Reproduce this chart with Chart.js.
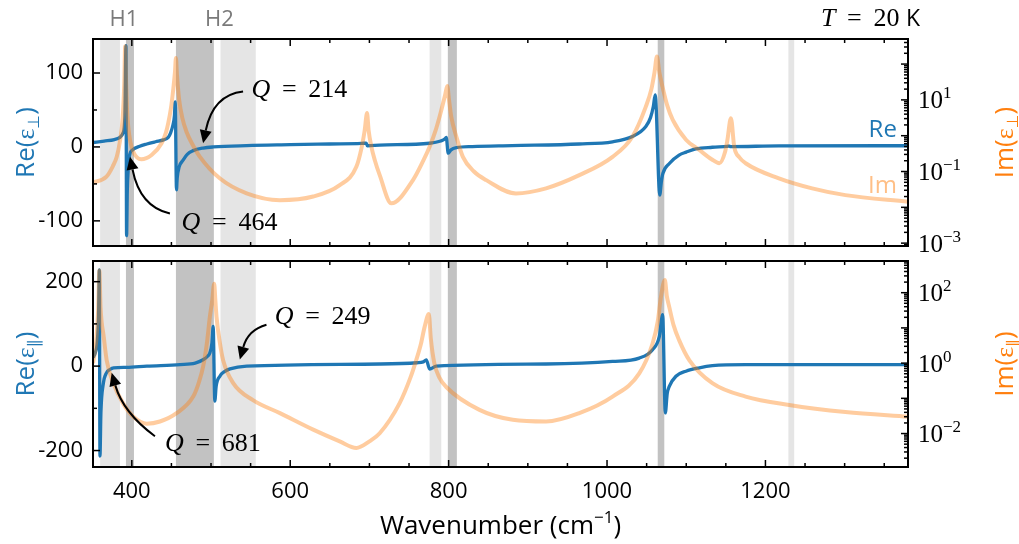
<!DOCTYPE html>
<html>
<head>
<meta charset="utf-8">
<script src="https://cdn.jsdelivr.net/npm/chart.js@4.4.1/dist/chart.umd.min.js"></script>
<style>
  html, body { margin: 0; padding: 0; background: #fff; }
  #wrap { position: relative; width: 1019px; height: 544px; }
  canvas { position: absolute; left: 0; top: 0; }
</style>
</head>
<body>
<div id="wrap">
  <canvas id="perp" width="1019" height="544"></canvas>
  <canvas id="par" width="1019" height="544"></canvas>
</div>
<script>
'use strict';

// wavenumber axis (cm-1), shared by both panels
const X_MIN = 351;
const X_MAX = 1380;
const X_TICKS = [400, 600, 800, 1000, 1200];

// shaded regions
const BAND_START = [360, 392.6, 455.7, 512, 776, 799, 1064, 1229];
const BAND_END = [385, 402.7, 503.6, 556.5, 790.7, 810.4, 1072.3, 1236.3];
const BAND_DARK = [false, true, true, false, false, true, true, false];

// perpendicular component
const RE_PERP_X = [351, 365, 378, 385, 389, 391.2, 392.6, 393.4, 394.3, 395.5, 397, 401, 410, 419, 430, 440, 446, 449, 452, 453.8, 454.8,
  456.4, 457.3, 459.8, 465, 470, 477.5, 490, 503, 545, 600, 650, 690, 696, 697.5, 713, 776, 790, 795.5, 797, 799.5, 803, 810, 830,
  880, 965, 1007, 1032, 1049, 1055, 1058.5, 1060.8, 1066.6, 1068.5, 1070.5, 1079, 1091, 1100, 1112, 1133, 1152, 1154.5, 1156, 1217, 1380];
const RE_PERP = [6, 8, 10, 13, 19, 40, 137, -120, -60, -30, -12, -4, 1, 4, 7, 9.5, 13, 19, 30, 42, 61,
  -58, -42, -27, -17.6, -10, -5, -1.5, 0, 1.8, 3, 4, 4.8, 5.2, 1.6, 2.5, 5, 8, 11, 13, -8.5, -4, -1, 0.5,
  1.8, 4, 7, 14, 27.5, 40, 55, 70.5, -65, -48, -36, -22, -11, -7, -2.7, -0.4, 0.8, 1.2, 0.4, 1.4, 1.6];

const IM_PERP_X = [351, 368, 376, 381, 385, 388.5, 390.5, 391.6, 392.8, 394, 395.5, 398, 401.8, 412, 425, 437.6, 443, 446, 449.5, 452,
  454.5, 455.7, 457, 459.8, 464, 469, 477, 486, 511, 545, 587, 629, 662.5, 683.5, 690, 694, 697, 699, 702.5, 707, 713, 727.7,
  755, 768, 776, 784, 788.6, 793, 796, 798.3, 800.5, 803.3, 810, 818, 832, 847.5, 885, 923, 965, 1007, 1032, 1049, 1056,
  1060, 1063, 1066, 1070, 1076, 1083, 1100, 1116.5, 1132, 1141.7, 1149, 1152, 1156.4, 1160.6, 1167, 1175, 1217, 1259, 1301, 1380];
const IM_PERP = [0.049, 0.072, 0.14, 0.257, 0.7, 3.2, 30, 316, 30, 5, 1.78, 0.7, 0.355, 0.219, 0.288, 0.617, 1.2, 2.24, 6, 17,
  60, 148, 50, 10, 3, 1.29, 0.55, 0.257, 0.0646, 0.0245, 0.0158, 0.02, 0.0417, 0.135, 0.45, 1.4, 4.27, 1.4, 0.49, 0.2, 0.079, 0.0129,
  0.0575, 0.2, 0.49, 1.5, 3.39, 8, 15, 24.5, 10, 3.39, 0.9, 0.257, 0.1, 0.0575, 0.0245, 0.0339, 0.079, 0.257, 0.93, 6.46, 20,
  60, 162, 60, 23.4, 7, 2.75, 0.76, 0.4, 0.22, 0.17, 0.35, 0.76, 3.09, 0.49, 0.25, 0.17, 0.0646, 0.0339, 0.0219, 0.0143];

// parallel component
const RE_PAR_X = [351, 354, 356.5, 358, 359, 359.8, 361, 364, 368, 372.4, 377, 393.5, 419, 461, 480, 490, 496, 498.5, 501.2, 502.7,
  504.8, 506.5, 511.2, 517, 524, 545, 713, 760, 768, 771.8, 776, 784.4, 923, 1007, 1040.7, 1057.5, 1066, 1070.2, 1073.6, 1076,
  1078.6, 1087, 1099.7, 1116.5, 1133, 1175, 1380];
const RE_PAR = [20, 32, 60, 120, 228, -213, -110, -42, -16, -8, -4, -3, 0, 3.5, 7, 15, 24, 31, 55, 94,
  -83, -48, -24, -13, -6.6, 0, 5, 8, 10, 15, -7, 0, 5, 11, 19, 39, 70, 122, -111, -65,
  -48, -24, -12, -4, 1, 3.5, 3.5];

const IM_PAR_X = [351, 355, 357.5, 359, 360.5, 362, 364, 368.3, 376.6, 389, 402, 419, 435.5, 456.5, 477.5, 485, 490, 495, 498.5,
  501.5, 504, 505.5, 507, 511, 515.3, 528, 553, 587, 629, 662.5, 683.5, 700, 713, 738, 752, 759, 765, 769.7, 775, 777.5, 782,
  788, 797, 839, 881, 923, 965, 1007, 1040.7, 1057.5, 1064, 1068, 1073, 1075.5, 1078.6, 1084, 1091, 1104, 1133, 1175, 1230, 1301, 1380];
const IM_PAR = [1.0, 4, 31.6, 427, 40, 14, 6.9, 1.2, 0.27, 0.072, 0.03, 0.019, 0.022, 0.038, 0.112, 0.3, 0.79, 4, 20.4,
  60, 178, 60, 20.4, 4, 1.2, 0.27, 0.089, 0.038, 0.0129, 0.006, 0.0039, 0.006, 0.0102, 0.072, 0.4, 1.2, 3.5, 10.7, 25, 5, 0.98,
  0.4, 0.21, 0.047, 0.0245, 0.0219, 0.038, 0.112, 0.51, 3.6, 15, 74, 229, 80, 39, 12, 4.5, 1.2, 0.27, 0.112, 0.0646, 0.0407, 0.03];

// axis limits and tick labels
const RE_PERP_TICKS = [-100, 0, 100];
const RE_PAR_TICKS = [-200, 0, 200];
const IM_PERP_EXP = [-3, -1, 1];
const IM_PAR_EXP = [-2, 0, 2];

const SANS = '"Open Sans", "DejaVu Sans", sans-serif';
const SYM = '"DejaVu Sans", sans-serif';
const SERIF = '"Liberation Serif", "DejaVu Serif", serif';
const BLUE = '#1f77b4';
const ORANGE = '#ff7f0e';
const EQ = ' \u2009=\u2009 ';

const PANELS = {
  perp: {
    top: 39, xHeight: 298, showX: false,
    reMin: -134, reMax: 146, reTicks: RE_PERP_TICKS,
    imMin: Math.pow(10, -3.08), imMax: Math.pow(10, 2.7), imExp: IM_PERP_EXP,
    sub: '\u22a5',
    // Q labels: [text, x, y(Re)] ; arrows: [x0, y0, xc, yc, x1, y1]
    q: [['214', 551, 68], ['464', 462.8, -111.7]],
    arrows: [[540.5, 75, 502.7, 70.6, 490, 5], [448.1, -90, 410.3, -81, 397.7, -13.2]]
  },
  par: {
    top: 261, xHeight: 77, showX: true,
    reMin: -239, reMax: 249, reTicks: RE_PAR_TICKS,
    imMin: Math.pow(10, -2.95), imMax: Math.pow(10, 2.9), imExp: IM_PAR_EXP,
    sub: '\u2225',
    q: [['249', 580.5, 100.5], ['681', 441.8, -201.4]],
    arrows: [[570, 98, 546.8, 86, 536.4, 15.4], [429.2, -166, 389.2, -110.6, 374.6, -16]]
  }
};

function richWidth(ctx, parts) {
  let w = 0;
  parts.forEach(p => { ctx.font = p.font; w += ctx.measureText(p.text).width; });
  return w;
}

function drawRich(ctx, parts, x, y, rot, align) {
  ctx.save();
  ctx.translate(x, y);
  ctx.rotate(rot || 0);
  ctx.textBaseline = 'alphabetic';
  ctx.textAlign = 'left';
  const w = richWidth(ctx, parts);
  let cx = align === 'right' ? -w : (align === 'left' ? 0 : -w / 2);
  parts.forEach(p => {
    ctx.font = p.font;
    ctx.fillStyle = p.color || '#000';
    ctx.fillText(p.text, cx, p.dy || 0);
    cx += ctx.measureText(p.text).width;
  });
  ctx.restore();
}

function drawArrow(ctx, x, y, ar) {
  const sx = x.getPixelForValue(ar[0]), sy = y.getPixelForValue(ar[1]);
  const cx = x.getPixelForValue(ar[2]), cy = y.getPixelForValue(ar[3]);
  const tx = x.getPixelForValue(ar[4]), ty = y.getPixelForValue(ar[5]);
  const ang = Math.atan2(ty - cy, tx - cx);
  const head = 13, half = 6;
  const bx = tx - head * Math.cos(ang), by = ty - head * Math.sin(ang);
  ctx.beginPath();
  ctx.moveTo(sx, sy);
  ctx.quadraticCurveTo(cx, cy, bx, by);
  ctx.stroke();
  ctx.beginPath();
  ctx.moveTo(tx, ty);
  ctx.lineTo(bx + half * Math.sin(ang), by - half * Math.cos(ang));
  ctx.lineTo(bx - half * Math.sin(ang), by + half * Math.cos(ang));
  ctx.closePath();
  ctx.fill();
}

const decor = {
  id: 'decor',
  beforeDatasetsDraw(chart, args, opts) {
    const {ctx, chartArea: a, scales: {x}} = chart;
    ctx.save();
    BAND_START.forEach((lo, i) => {
      const x0 = x.getPixelForValue(lo), x1 = x.getPixelForValue(BAND_END[i]);
      ctx.fillStyle = BAND_DARK[i] ? '#c2c2c2' : '#e5e5e5';
      ctx.fillRect(x0, a.top, x1 - x0, a.bottom - a.top);
    });
    ctx.restore();
  },
  afterDraw(chart, args, opts) {
    const p = PANELS[opts.panel];
    const {ctx, chartArea: a, scales: {x, y, y2}} = chart;
    ctx.save();

    // ticks, all pointing inward
    ctx.strokeStyle = '#000';
    ctx.lineWidth = 1.5;
    const tick = (x0, y0, x1, y1) => { ctx.beginPath(); ctx.moveTo(x0, y0); ctx.lineTo(x1, y1); ctx.stroke(); };
    for (let v = 400; v <= X_MAX; v += 50) {
      const px = x.getPixelForValue(v);
      if (px > a.right - 2) continue;
      const len = v % 200 === 0 ? 7 : 4;
      tick(px, a.bottom, px, a.bottom - len);
      tick(px, a.top, px, a.top + len);
    }
    const step = p.reTicks[1] - p.reTicks[0];
    for (let v = -2 * step; v <= 2 * step; v += step / 2) {
      if (v < p.reMin || v > p.reMax) continue;
      const py = y.getPixelForValue(v);
      tick(a.left, py, a.left + (v % step === 0 ? 7 : 4), py);
    }
    for (let k = -4; k <= 3; k++) {
      for (let m = 1; m <= 9; m++) {
        const v = m * Math.pow(10, k);
        if (v < p.imMin || v > p.imMax) continue;
        const py = y2.getPixelForValue(v);
        tick(a.right, py, a.right - (m === 1 ? 7 : 4), py);
      }
    }

    // frame
    ctx.lineWidth = 2;
    ctx.strokeRect(a.left, a.top, a.right - a.left, a.bottom - a.top);

    // log tick labels on the right
    p.imExp.forEach(e => {
      const py = y2.getPixelForValue(Math.pow(10, e));
      const ex = e < 0 ? '\u2212' + (-e) : String(e);
      drawRich(ctx, [
        {text: '10', font: '25px ' + SERIF},
        {text: ex, font: '17px ' + SERIF, dy: -10}
      ], a.right + 10, py + 8.5, 0, 'left');
    });

    // axis titles
    const midY = (a.top + a.bottom) / 2;
    drawRich(ctx, [
      {text: 'Re(', font: '26px ' + SANS, color: BLUE},
      {text: '\u03b5', font: '26px ' + SERIF, color: BLUE},
      {text: p.sub, font: '16px ' + SYM, color: BLUE, dy: 5},
      {text: ')', font: '26px ' + SANS, color: BLUE}
    ], 34, midY, -Math.PI / 2, 'center');
    drawRich(ctx, [
      {text: 'Im(', font: '26px ' + SANS, color: ORANGE},
      {text: '\u03b5', font: '26px ' + SERIF, color: ORANGE},
      {text: p.sub, font: '16px ' + SYM, color: ORANGE, dy: 5},
      {text: ')', font: '26px ' + SANS, color: ORANGE}
    ], 1013, midY, -Math.PI / 2, 'center');

    // Q annotations
    ctx.fillStyle = '#000';
    ctx.strokeStyle = '#000';
    ctx.lineWidth = 2;
    p.arrows.forEach(ar => drawArrow(ctx, x, y, ar));
    p.q.forEach(q => {
      drawRich(ctx, [
        {text: 'Q', font: 'italic 26px ' + SERIF},
        {text: EQ + q[0], font: '26px ' + SERIF}
      ], x.getPixelForValue(q[1]), y.getPixelForValue(q[2]), 0, 'left');
    });

    if (opts.panel === 'perp') {
      drawRich(ctx, [{text: 'Re', font: '24px ' + SANS, color: BLUE}],
        x.getPixelForValue(1366), y.getPixelForValue(14), 0, 'right');
      drawRich(ctx, [{text: 'Im', font: '24px ' + SANS, color: 'rgba(255,127,14,0.5)'}],
        x.getPixelForValue(1366), y.getPixelForValue(-62.8), 0, 'right');
      drawRich(ctx, [{text: 'H1', font: '22px ' + SANS, color: '#7a7a7a'}], x.getPixelForValue(390), 26, 0, 'center');
      drawRich(ctx, [{text: 'H2', font: '22px ' + SANS, color: '#7a7a7a'}], x.getPixelForValue(510.5), 26, 0, 'center');
      drawRich(ctx, [
        {text: 'T', font: 'italic 26px ' + SERIF},
        {text: EQ + '20 ', font: '26px ' + SERIF},
        {text: 'K', font: '23px ' + SANS}
      ], 920, 26, 0, 'right');
    } else {
      drawRich(ctx, [
        {text: 'Wavenumber (cm', font: '26px ' + SANS},
        {text: '\u22121', font: '17px ' + SANS, dy: -11},
        {text: ')', font: '26px ' + SANS}
      ], (a.left + a.right) / 2, 534, 0, 'center');
    }
    ctx.restore();
  }
};

function makePanel(id) {
  const p = PANELS[id];
  const pts = (xs, ys) => xs.map((v, i) => ({x: v, y: ys[i]}));
  const reX = id === 'perp' ? RE_PERP_X : RE_PAR_X;
  const re = id === 'perp' ? RE_PERP : RE_PAR;
  const imX = id === 'perp' ? IM_PERP_X : IM_PAR_X;
  const im = id === 'perp' ? IM_PERP : IM_PAR;
  return new Chart(document.getElementById(id), {
    type: 'line',
    data: {
      datasets: [
        {label: 'Im', data: pts(imX, im), yAxisID: 'y2', borderColor: 'rgba(255,127,14,0.4)', borderWidth: 4,
          pointRadius: 0, cubicInterpolationMode: 'monotone', order: 0},
        {label: 'Re', data: pts(reX, re), yAxisID: 'y', borderColor: BLUE, borderWidth: 3.3,
          pointRadius: 0, cubicInterpolationMode: 'monotone', order: 1}
      ]
    },
    options: {
      responsive: false,
      animation: false,
      devicePixelRatio: 1,
      layout: {padding: {top: p.top, left: 0, right: 0, bottom: 0}},
      plugins: {legend: {display: false}, tooltip: {enabled: false}, decor: {panel: id}},
      scales: {
        x: {
          type: 'linear', min: X_MIN, max: X_MAX,
          grid: {display: false, drawTicks: false}, border: {display: false},
          afterBuildTicks: s => { s.ticks = X_TICKS.map(v => ({value: v})); },
          afterFit: s => { s.height = p.xHeight; },
          ticks: {display: p.showX, padding: 12, color: '#000', font: {family: SANS, size: 22}, callback: v => String(v)}
        },
        y: {
          type: 'linear', position: 'left', min: p.reMin, max: p.reMax,
          grid: {display: false, drawTicks: false}, border: {display: false},
          afterBuildTicks: s => { s.ticks = p.reTicks.map(v => ({value: v})); },
          afterFit: s => { s.width = 93; },
          ticks: {padding: 10, color: '#000', font: {family: SANS, size: 22}, callback: v => String(v)}
        },
        y2: {
          type: 'logarithmic', position: 'right', min: p.imMin, max: p.imMax,
          grid: {display: false, drawTicks: false}, border: {display: false},
          afterFit: s => { s.width = 111; },
          ticks: {display: false}
        }
      }
    },
    plugins: [decor]
  });
}

makePanel('perp');
makePanel('par');
</script>
</body>
</html>
